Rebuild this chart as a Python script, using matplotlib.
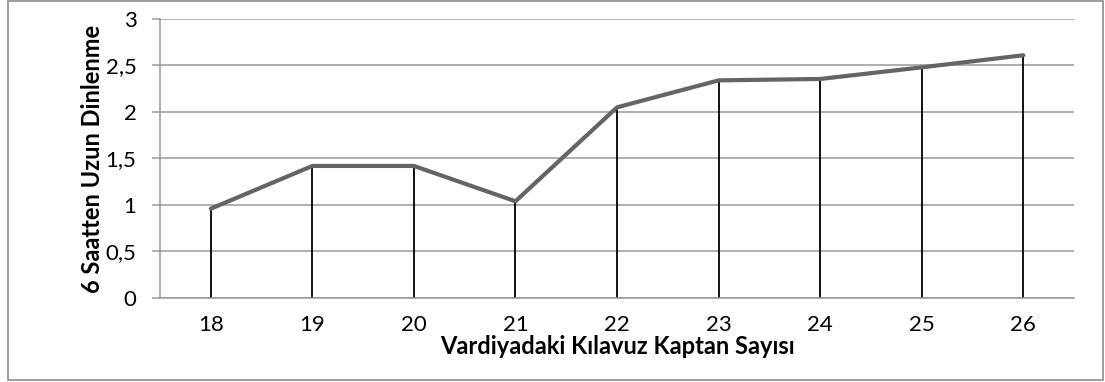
import numpy as np
import matplotlib.pyplot as plt
from matplotlib.patches import Rectangle

# kilavuz kaptan sayisi vs. 6 saatten uzun dinlenme
kaptan_sayisi = [18, 19, 20, 21, 22, 23, 24, 25, 26]
dinlenme = [0.96, 1.42, 1.42, 1.04, 2.05, 2.34, 2.355, 2.48, 2.61]
y_ticks = [0, 0.5, 1, 1.5, 2, 2.5, 3]
y_tick_labels = ['0', '0,5', '1', '1,5', '2', '2,5', '3']

plt.rcParams['font.family'] = ['Lato', 'DejaVu Sans']

fig = plt.figure(figsize=(11.05, 3.82), dpi=100)
ax = fig.add_axes([0.1448, 0.2199, 0.8272, 0.7304])

grid_color = '#989898'
x = np.arange(len(kaptan_sayisi))

# drop lines from each point down to the axis
ax.vlines(x, 0, dinlenme, color='black', linewidth=1.3, zorder=2)
ax.plot(x, dinlenme, color='#646464', linewidth=3.0, solid_capstyle='round', zorder=3)

ax.set_xlim(-0.5, len(x) - 0.5)
ax.set_ylim(0, 3)
ax.set_yticks(y_ticks)
ax.set_yticklabels(y_tick_labels)
ax.set_xticks(x)
ax.set_xticklabels([str(k) for k in kaptan_sayisi])
ax.yaxis.grid(True, color=grid_color, linewidth=1.1, zorder=0)
ax.set_axisbelow(True)

for side in ['top', 'right']:
    ax.spines[side].set_visible(False)
for side in ['left', 'bottom']:
    ax.spines[side].set_color(grid_color)
    ax.spines[side].set_linewidth(1.1)

ax.tick_params(axis='y', length=6, width=1.1, color=grid_color, labelsize=16, pad=11)
ax.tick_params(axis='x', length=0, labelsize=16, pad=12)

ax.set_xlabel('Vardiyadaki Kılavuz Kaptan Sayısı', fontsize=17, fontweight='bold', labelpad=0)
ax.set_ylabel('6 Saatten Uzun Dinlenme', fontsize=17, fontweight='bold', labelpad=1)

# outer chart frame
fig.patches.append(Rectangle((0.007, 0.004), 0.991, 0.994, transform=fig.transFigure,
                             fill=False, edgecolor='#8c8c8c', linewidth=1.2))

fig.savefig('out.png', dpi=100)
